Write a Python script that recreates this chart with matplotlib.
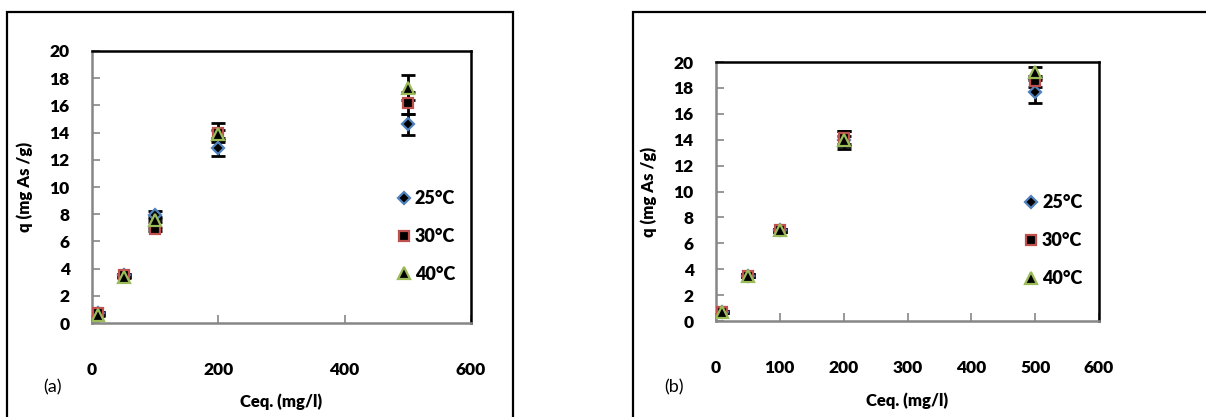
import matplotlib
matplotlib.use("Agg")
import matplotlib.pyplot as plt
from matplotlib.patches import Rectangle

plt.rcParams['font.family'] = ['Lato', 'DejaVu Sans']

ceq = [10, 50, 100, 200, 500]
temps = ["25°C", "30°C", "40°C"]

# panel (a)
qa_25 = [0.7, 3.5, 7.95, 12.85, 14.6]
qa_30 = [0.7, 3.5, 6.9, 14.0, 16.2]
qa_40 = [0.6, 3.4, 7.6, 13.9, 17.3]
ea_25 = [0.1, 0.1, 0.3, 0.6, 0.75]
ea_30 = [0.1, 0.1, 0.1, 0.7, 0.8]
ea_40 = [0.1, 0.1, 0.2, 0.3, 0.9]

# panel (b)
qb_25 = [0.7, 3.5, 7.0, 14.0, 17.7]
qb_30 = [0.7, 3.5, 7.0, 14.1, 18.5]
qb_40 = [0.7, 3.5, 7.0, 14.0, 19.2]
eb_25 = [0.1, 0.1, 0.1, 0.7, 0.9]
eb_30 = [0.1, 0.1, 0.1, 0.6, 0.4]
eb_40 = [0.1, 0.1, 0.1, 0.3, 0.4]

styles = [
    dict(marker='D', mec='#4F81BD', ms=6.5),
    dict(marker='s', mec='#C0504D', ms=7.5),
    dict(marker='^', mec='#9BBB59', ms=8.5),
]
WT = 'heavy'


def draw(ax, series, errors, xticks, leg_y):
    for q, e, st, lab in zip(series, errors, styles, temps):
        ax.errorbar(ceq, q, yerr=e, fmt='none', ecolor='black', elinewidth=2,
                    capsize=5, capthick=2, zorder=2)
        ax.plot(ceq, q, linestyle='none', mfc='black', mew=1.6, label=lab,
                zorder=3, **st)
    ax.set_xlim(0, 600)
    ax.set_ylim(0, 20)
    ax.set_xticks(xticks)
    ax.set_yticks(range(0, 21, 2))
    ax.tick_params(axis='x', direction='in', length=6, width=1.2,
                   color='#868686', pad=28, labelsize=12.5)
    ax.tick_params(axis='y', direction='in', length=6, width=1.2,
                   color='#868686', pad=16, labelsize=12.5)
    for t in ax.get_xticklabels() + ax.get_yticklabels():
        t.set_fontweight(WT)
    for s in ['left', 'bottom']:
        ax.spines[s].set_color('#868686')
        ax.spines[s].set_linewidth(1.8)
    for s in ['top', 'right']:
        ax.spines[s].set_color('black')
        ax.spines[s].set_linewidth(1.8)
    ax.set_ylabel("q (mg As /g)", fontsize=12, fontweight=WT, labelpad=12)
    ax.legend(loc='center left', bbox_to_anchor=(0.79, leg_y), frameon=False,
              handlelength=0.6, handletextpad=0.3, labelspacing=1.15,
              prop=dict(size=13, weight=WT), borderaxespad=0)


fig = plt.figure(figsize=(12.06, 4.17), dpi=100)

ax1 = fig.add_axes([0.0763, 0.2254, 0.3143, 0.6523])
draw(ax1, [qa_25, qa_30, qa_40], [ea_25, ea_30, ea_40], [0, 200, 400, 600], 0.318)
ax1.set_xlabel("Ceq. (mg/l)", fontsize=12, fontweight=WT)
ax1.xaxis.set_label_coords(0.5, -0.26)

ax2 = fig.add_axes([0.5937, 0.2302, 0.3176, 0.6211])
draw(ax2, [qb_25, qb_30, qb_40], [eb_25, eb_30, eb_40], range(0, 601, 100), 0.31)
ax2.set_xlabel("Ceq. (mg/l)", fontsize=12, fontweight=WT)
ax2.xaxis.set_label_coords(0.5, -0.275)

fig.text(0.036, 0.058, "(a)", fontsize=13)
fig.text(0.551, 0.058, "(b)", fontsize=13)

fig.patches.append(Rectangle((0.0058, -0.05), 0.4196, 1.0212, transform=fig.transFigure,
                             fill=False, edgecolor='black', linewidth=1.6))
fig.patches.append(Rectangle((0.5249, -0.05), 0.5, 1.0212, transform=fig.transFigure,
                             fill=False, edgecolor='black', linewidth=1.6))

fig.savefig("out.png", dpi=100)
